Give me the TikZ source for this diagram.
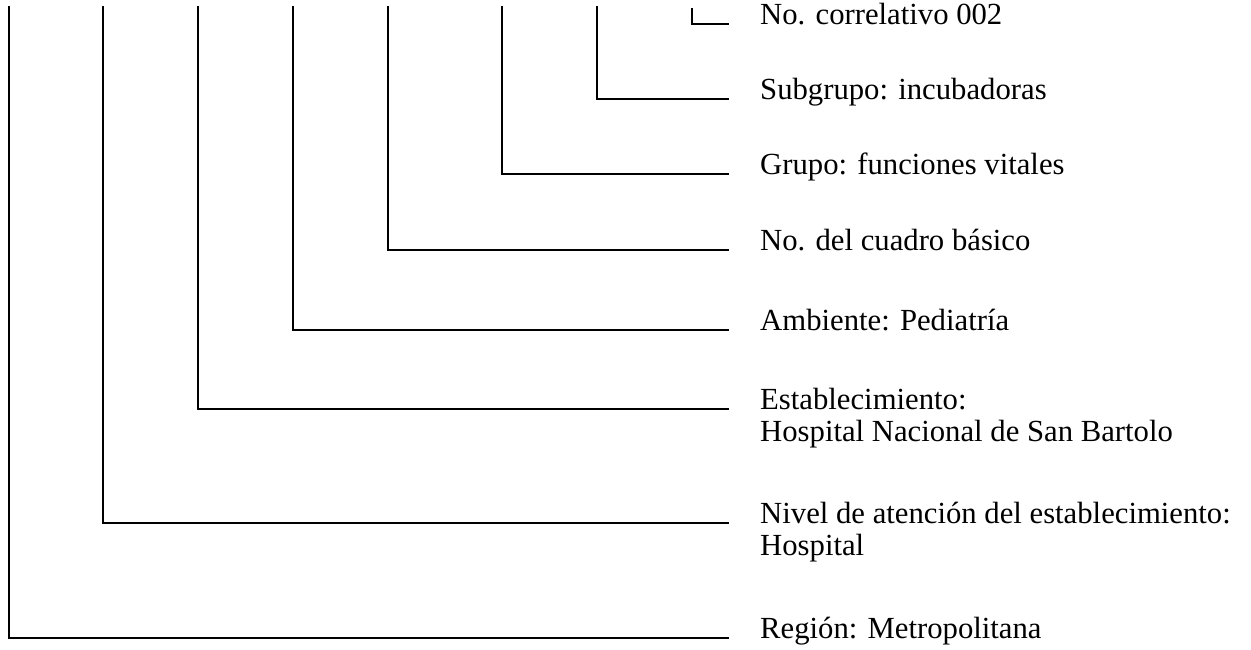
\documentclass[tikz,border=0pt]{standalone}
\usepackage{fontspec}
\setmainfont{Liberation Serif}
\begin{document}
\begin{tikzpicture}[x=1pt,y=-1pt,
  lab/.style={anchor=base west,inner sep=0pt,font=\fontsize{30.7}{30}\selectfont},
  conn/.style={line width=2pt,line cap=butt,line join=miter}]
\useasboundingbox (0,0) rectangle (1251,649);
% labels
\node[lab] (l1) at (760,24) {No. correlativo 002};
\node[lab] (l2) at (760,99) {Subgrupo: incubadoras};
\node[lab] (l3) at (760,174) {Grupo: funciones vitales};
\node[lab] (l4) at (760,250) {No. del cuadro básico};
\node[lab] (l5) at (760,330) {Ambiente: Pediatría};
\node[lab] (l6) at (760,409) {Establecimiento:};
\node[lab] (l6b) at (760,441) {Hospital Nacional de San Bartolo};
\node[lab] (l7) at (760,523) {Nivel de atención del establecimiento:};
\node[lab] (l7b) at (760,555) {Hospital};
\node[lab] (l8) at (760,638) {Región: Metropolitana};
% top ends of the vertical lines
\coordinate (t1) at (692,8);
\coordinate (t2) at (597,6);
\coordinate (t3) at (502,6);
\coordinate (t4) at (388,6);
\coordinate (t5) at (293,6);
\coordinate (t6) at (198,6);
\coordinate (t7) at (103,6);
\coordinate (t8) at (9,6);
% right ends of the horizontal lines
\foreach \i in {1,...,8}{
  \coordinate (e\i) at ([xshift=-31pt]l\i.base west);
}
\foreach \i in {1,...,8}{
  \draw[conn] (t\i) |- (e\i);
}
\end{tikzpicture}
\end{document}
